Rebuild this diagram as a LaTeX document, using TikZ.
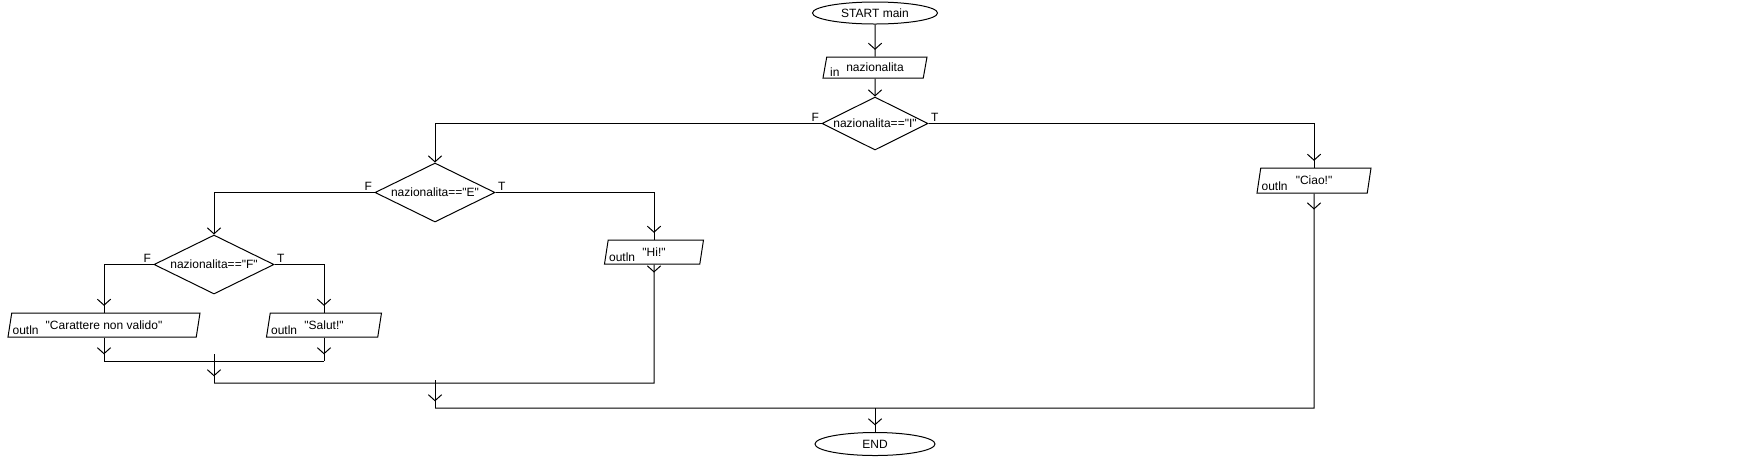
\documentclass[tikz,border=0pt]{standalone}
\usepackage{fontspec}
\setmainfont{Liberation Sans}[Ligatures=TeXOff]
\usetikzlibrary{shapes.geometric,arrows.meta,decorations.markings}

\begin{document}
\begin{tikzpicture}[x=0.75pt,y=-0.75pt,line width=0.75pt,font=\fontsize{9}{11}\selectfont,
  terminal/.style={draw,ellipse,inner sep=0pt,minimum height=16.5pt},
  io/.style={draw,trapezium,trapezium left angle=67,trapezium right angle=113,trapezium stretches body,inner sep=0pt,minimum height=18pt},
  test/.style={draw,diamond,aspect=2,inner sep=0pt,minimum width=90pt,minimum height=44.25pt},
  tag/.style={inner sep=1.5pt},
  flow/.style={postaction={decorate},decoration={markings,mark=at position -5pt with {\arrow{Straight Barb[length=4.5pt,width=10pt]}}}},
  flowout/.style={postaction={decorate},decoration={markings,mark=at position #1 with {\arrow{Straight Barb[length=4.5pt,width=10pt]}}}},
  flowend/.style={-{Straight Barb[length=4.5pt,width=10pt]}}]
\useasboundingbox (0,0) rectangle (1748,462);
% Start and input
\node[terminal,minimum width=93.75pt] (start) at (875,13) {START main};
\node[io,minimum width=78pt,minimum height=15.75pt] (in) at (875,67.5) {nazionalita};
\node[tag,anchor=south west,xshift=4pt] (inTag) at (in.bottom left corner) {in};
% Conditions
\node[test,minimum width=79.5pt,minimum height=39.75pt] (d1) at (875,123.5) {nazionalita=="I"};
\node[tag,anchor=south east] (d1F) at (d1.west) {F};
\node[tag,anchor=south west] (d1T) at (d1.east) {T};
\node[test] (d2) at (435,192.5) {nazionalita=="E"};
\node[tag,anchor=south east] (d2F) at (d2.west) {F};
\node[tag,anchor=south west] (d2T) at (d2.east) {T};
\node[test] (d3) at (214,264.5) {nazionalita=="F"};
\node[tag,anchor=south east] (d3F) at (d3.west) {F};
\node[tag,anchor=south west] (d3T) at (d3.east) {T};
% Outputs
\node[io,minimum width=85.5pt,minimum height=18.75pt] (ciao) at (1314,180.5) {"Ciao!"};
\node[tag,anchor=south west,xshift=2pt] (ciaoTag) at (ciao.bottom left corner) {outln};
\node[io,minimum width=74.25pt] (hi) at (654,252) {"Hi!"};
\node[tag,anchor=south west,xshift=2pt] (hiTag) at (hi.bottom left corner) {outln};
\node[io,minimum width=144pt] (car) at (104,325) {"Carattere non valido"};
\node[tag,anchor=south west,xshift=2pt] (carTag) at (car.bottom left corner) {outln};
\node[io,minimum width=86.25pt] (sal) at (324,325) {"Salut!"};
\node[tag,anchor=south west,xshift=2pt] (salTag) at (sal.bottom left corner) {outln};
% End
\node[terminal,minimum width=90pt,minimum height=17.25pt] (end) at (875,444) {END};
% Merge points
\coordinate (m1) at (214,361);
\coordinate (m2) at (435,383);
\coordinate (m3) at (875,408);
% Flow
\draw[flow] (start) -- (in);
\draw[flowend] (in) -- (d1);
\draw[flowend] (d1.west) -| (d2.north);
\draw[flow] (d1.east) -| (ciao.north);
\draw[flowend] (d2.west) -| (d3.north);
\draw[flow] (d2.east) -| (hi.north);
\draw[flow] (d3.west) -| (car.north);
\draw[flow] (d3.east) -| (sal.north);
% Joins
\draw[flow] (car) -- (car |- m1);
\draw[flow] (sal) -- (sal |- m1);
\draw (car |- m1) -- (sal |- m1);
\draw[flow] ([yshift=5pt]m1) -- (m1 |- m2);
\draw[flowout=6pt] (hi) -- (hi |- m2) -- (m1 |- m2);
\draw[flow] ([yshift=2pt]m2) -- (m2 |- m3);
\draw[flowout=12pt] (ciao) -- (ciao |- m3) -- (m2 |- m3);
\draw[flow] (m3) -- (end);
\end{tikzpicture}
\end{document}
